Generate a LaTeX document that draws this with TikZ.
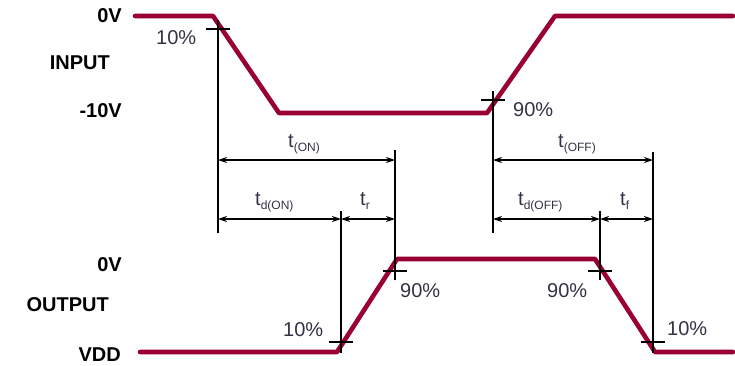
\documentclass[tikz,border=0pt]{standalone}
\usepackage{fontspec}
\setmainfont{Liberation Sans}
\usetikzlibrary{arrows.meta}

\definecolor{wavered}{RGB}{153,0,51}
\definecolor{lbltext}{RGB}{50,50,70}

\tikzset{
  wave/.style={line width=4.6pt, color=wavered, line join=round, line cap=round},
  marker/.style={line width=1.3pt},
  span/.style={line width=1.2pt, {Stealth[length=9pt,width=6pt]}-{Stealth[length=9pt,width=6pt]}},
  lvl/.style={font=\fontsize{20}{24}\selectfont\bfseries, anchor=base east, inner sep=0pt},
  pctlbl/.style={font=\fontsize{20}{24}\selectfont, text=lbltext, anchor=base west, inner sep=0pt},
  tlbl/.style={font=\fontsize{20}{24}\selectfont, text=lbltext, anchor=base west, inner sep=0pt}
}
\newcommand{\tsub}[1]{t\raisebox{-4pt}{\fontsize{12}{12}\selectfont #1}}

\begin{document}
\begin{tikzpicture}[x=1pt,y=-1pt]

\useasboundingbox (0,0) rectangle (735,365);

% Niveaux
\node[lvl] (in0)   at (122,22)  {0V};
\node[lvl] (inlbl) at (110,69)  {INPUT};
\node[lvl] (in10)  at (122,117) {-10V};
\node[lvl] (out0)  at (122,271) {0V};
\node[lvl] (outlbl) at (109,311) {OUTPUT};
\node[lvl] (vdd)   at (121,361) {VDD};

% Entree
\draw[wave]
(135,16)
--
(213,16)
--
(279,113)
--
(487,113)
--
(555,16)
--
(733,16);

% Sortie
\draw[wave]
(140,352)
--
(337,352)
--
(397,259)
--
(595,259)
--
(655,352)
--
(733,352);

% Points de mesure
\coordinate (pin10)  at (218,29);
\coordinate (pin90)  at (493,100);
\coordinate (pout10) at (341,342);
\coordinate (pout90) at (395,271);
\coordinate (poff90) at (600,271);
\coordinate (poff10) at (653,342);

% Lignes de rappel
\draw[marker] (pin10)  ++(0,-9)  -- (218,233);
\draw[marker] (pin10)  ++(-12,0) -- ++(24,0);
\draw[marker] (pin90)  ++(0,-9)  -- (493,233);
\draw[marker] (pin90)  ++(-12,0) -- ++(24,0);
\draw[marker] (395,150) -- (395,280);
\draw[marker] (pout90) ++(-12,0) -- ++(24,0);
\draw[marker] (653,152) -- (653,353);
\draw[marker] (poff10) ++(-12,0) -- ++(24,0);
\draw[marker] (341,211) -- (341,353);
\draw[marker] (pout10) ++(-12,0) -- ++(24,0);
\draw[marker] (600,211) -- (600,280);
\draw[marker] (poff90) ++(-12,0) -- ++(24,0);

% Fleches
\coordinate (rowtot) at (0,160);
\coordinate (rowpart) at (0,219);
\draw[span] (pin10 |- rowtot) -- (pout90 |- rowtot);
\draw[span] (pin90 |- rowtot) -- (poff10 |- rowtot);
\draw[span] (pin10 |- rowpart) -- (pout10 |- rowpart);
\draw[span] (pout10 |- rowpart) -- (pout90 |- rowpart);
\draw[span] (pin90 |- rowpart) -- (poff90 |- rowpart);
\draw[span] (poff90 |- rowpart) -- (poff10 |- rowpart);

% Pourcentages
\node[pctlbl] (lin10)  at (156,44)  {10\%};
\node[pctlbl] (lin90)  at (513,116) {90\%};
\node[pctlbl] (lout10) at (283,336) {10\%};
\node[pctlbl] (lout90) at (400,297) {90\%};
\node[pctlbl] (loff90) at (547,297) {90\%};
\node[pctlbl] (loff10) at (667,335) {10\%};

% Temps
\node[tlbl] (ton)   at (288,147) {\tsub{(ON)}};
\node[tlbl] (toff)  at (558,147) {\tsub{(OFF)}};
\node[tlbl] (tdon)  at (255,205) {\tsub{d(ON)}};
\node[tlbl] (trise) at (360,205) {\tsub{r}};
\node[tlbl] (tdoff) at (518,205) {\tsub{d(OFF)}};
\node[tlbl] (tfall) at (620,205) {\tsub{f}};

\end{tikzpicture}
\end{document}
